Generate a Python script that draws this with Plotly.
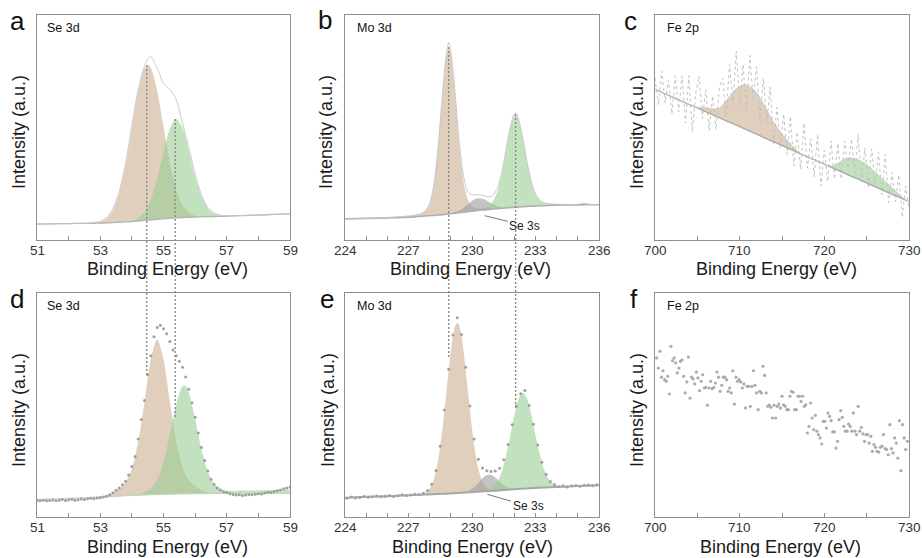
import plotly.graph_objects as go

W, H = 922, 558
FONT = "Liberation Sans, Arial, sans-serif"

# ---------------- tick labels ----------------
se_ticks = [51, 53, 55, 57, 59]
mo_ticks = [224, 227, 230, 233, 236]
fe_ticks = [700, 710, 720, 730]

# ---------------- panel a : Se 3d (top) ----------------
a_x = [51, 51.5, 52, 52.5, 52.8, 53.0, 53.2, 53.4, 53.6, 53.8, 54.0, 54.2, 54.4, 54.5, 54.6, 54.8,
       55.0, 55.2, 55.4, 55.6, 55.8, 56.0, 56.2, 56.4, 56.6, 56.8, 57.0, 57.5, 58, 58.5, 59]
a_bg = [7.1, 7.2, 7.3, 7.4, 7.45, 7.5, 7.6, 7.75, 7.9, 8.05, 8.2, 8.45, 8.7, 8.8, 8.9, 9.15,
        9.4, 9.6, 9.8, 10.0, 10.1, 10.2, 10.3, 10.4, 10.45, 10.5, 10.6, 10.85, 11.1, 11.35, 11.6]
a_tan = [0, 0, 0, 0, 0.2, 0.6, 2.0, 5.5, 12.8, 24.8, 41.0, 57.3, 67.6, 69.0, 67.6, 57.3,
         41.0, 24.8, 12.8, 5.5, 2.0, 0.6, 0.2, 0, 0, 0, 0, 0, 0, 0, 0]
a_green = [0, 0, 0, 0, 0, 0, 0, 0, 0, 0.1, 0.35, 1.2, 3.7, 5.9, 9.1, 18.1,
           29.6, 39.9, 44.0, 39.9, 29.6, 18.1, 9.1, 3.7, 1.2, 0.35, 0.1, 0, 0, 0, 0]
a_env = [7.1, 7.2, 7.3, 7.45, 7.7, 8.3, 10.0, 14.0, 21.5, 34.0, 51.0, 67.0, 77.5, 80.5, 81.5, 76.5,
         69.5, 67.0, 62.5, 52.0, 41.0, 29.5, 20.0, 14.5, 12.0, 11.0, 10.8, 10.9, 11.15, 11.4, 11.7]

# ---------------- panel b : Mo 3d (top) ----------------
b_x = [224, 225, 226, 226.5, 227, 227.3, 227.6, 227.8, 228.0, 228.2, 228.4, 228.6, 228.8, 228.9,
       229.0, 229.2, 229.4, 229.6, 229.8, 230.0, 230.2, 230.4, 230.6, 230.8, 231.0, 231.2, 231.4,
       231.6, 231.8, 232.0, 232.1, 232.2, 232.4, 232.6, 232.8, 233.0, 233.2, 233.4, 233.6, 233.8,
       234.0, 234.5, 235.0, 235.3, 235.6, 236]
b_bg = [9.4, 9.6, 9.8, 9.95, 10.1, 10.3, 10.55, 10.7, 10.8, 10.95, 11.1, 11.3, 11.5, 11.6,
        11.7, 11.9, 12.1, 12.3, 12.55, 12.8, 13.0, 13.2, 13.4, 13.6, 13.8, 13.95, 14.1,
        14.25, 14.4, 14.5, 14.6, 14.65, 14.8, 14.95, 15.0, 15.1, 15.2, 15.25, 15.35, 15.45,
        15.5, 15.55, 15.6, 15.65, 15.65, 15.7]
b_tan = [0, 0, 0.25, 0.35, 0.56, 0.77, 1.26, 2.3, 5.4, 13.7, 30.2, 53.0, 71.5, 74.3,
         71.5, 53.0, 30.2, 13.7, 5.4, 2.3, 1.26, 0.87, 0.69, 0.56, 0.46, 0, 0,
         0, 0, 0, 0, 0, 0, 0, 0, 0, 0, 0, 0, 0, 0, 0, 0, 0, 0, 0]
b_gray = [0, 0, 0, 0, 0, 0, 0, 0, 0, 0, 0, 0, 0, 0,
          0.19, 0.49, 1.09, 2.06, 3.34, 4.6, 5.39, 5.39, 4.6, 3.34, 2.06, 1.09, 0.49,
          0.19, 0, 0, 0, 0, 0, 0, 0, 0, 0, 0, 0, 0, 0, 0, 0, 0, 0, 0]
b_green = [0, 0, 0, 0, 0, 0, 0, 0, 0, 0, 0, 0, 0, 0,
           0, 0, 0, 0, 0, 0, 0, 0.62, 0.93, 1.7, 3.6, 7.65, 14.9,
           25.0, 35.2, 41.1, 41.1, 39.0, 30.3, 19.7, 10.8, 5.3, 2.4, 1.2, 0.75, 0.52,
           0.43, 0.28, 0.18, 0.14, 0.1, 0.08]
b_env = [9.4, 9.6, 10.0, 10.3, 10.7, 11.1, 11.8, 13.0, 16.2, 24.7, 41.3, 64.3, 83.5, 88.0,
         84.0, 65.4, 43.4, 28.3, 21.6, 20.05, 20.1, 20.1, 19.6, 19.2, 19.9, 23.1, 29.9,
         39.8, 49.9, 56.2, 56.4, 53.9, 45.3, 34.9, 26.0, 20.6, 17.7, 16.6, 16.1, 16.0,
         15.9, 15.8, 15.8, 16.4, 15.8, 15.8]

# ---------------- panel c : Fe 2p (top) ----------------
c_start, c_step = 700.0, 0.4
c_bg = [67.0, 66.3, 65.7, 65.0, 64.3, 63.7, 63.0, 62.3, 61.7, 61.0, 60.3, 59.7, 59.0, 58.3, 57.7, 57.0,
        56.3, 55.7, 55.0, 54.3, 53.7, 53.0, 52.3, 51.7, 51.0, 50.3, 49.7, 49.0, 48.3, 47.7, 47.0, 46.3,
        45.7, 45.0, 44.3, 43.7, 43.0, 42.3, 41.7, 41.0, 40.3, 39.7, 39.0, 38.3, 37.7, 37.0, 36.3, 35.7,
        35.0, 34.3, 33.7, 33.0, 32.3, 31.7, 31.0, 30.3, 29.7, 29.0, 28.3, 27.7, 27.0, 26.3, 25.7, 25.0,
        24.3, 23.7, 23.0, 22.3, 21.7, 21.0, 20.3, 19.7, 19.0, 18.3, 17.7, 17.0]
c_tan = [0, 0, 0, 0, 0, 0, 0, 0, 0, 0, 0, 0,
         0.1, 0.5, 1.1, 1.8, 2.2, 2.6, 3.2, 4.4, 6.3, 8.8, 11.5, 14.0, 16.2, 18.0, 19.3, 19.9,
         19.9, 19.4, 18.3, 16.8, 14.9, 12.9, 10.7, 8.7, 7.1, 5.8, 4.6, 3.4, 2.4, 1.4, 0.7, 0.2,
         0, 0, 0, 0, 0, 0, 0, 0, 0, 0, 0, 0, 0, 0, 0, 0, 0, 0, 0, 0, 0, 0, 0, 0, 0, 0, 0, 0, 0, 0, 0, 0]
c_green = [0] * 52 + [0.5, 1.5, 3.0, 4.8, 6.3, 7.4, 8.1, 8.5, 8.6, 8.6, 8.3, 7.9, 7.2, 6.5, 5.8, 5.0,
                      4.3, 3.6, 2.8, 2.1, 1.4, 0.7, 0.15, 0]
c_raw = [72, 60, 75, 61, 71, 56, 73, 57, 73, 52, 73, 48, 65, 73, 54, 67, 48.5, 64, 49, 68,
         72, 55, 78, 60, 84, 60, 78, 57, 82, 62, 77, 53, 72, 52, 68, 42, 59, 41, 56, 38,
         55, 33, 48, 31.5, 52, 32, 45, 28, 47, 24, 40, 26, 44, 27, 43, 27, 44, 32, 45, 29,
         47, 26, 41, 23, 40.5, 24, 39, 20, 38, 16.6, 30, 17, 29, 10, 24, 14]

# ---------------- panel d : Se 3d (bottom) ----------------
d_x = [51, 51.5, 52, 52.5, 53.0, 53.3, 53.6, 53.8, 54.0, 54.2, 54.4, 54.6, 54.8, 55.0, 55.2,
       55.4, 55.6, 55.7, 55.8, 56.0, 56.2, 56.4, 56.6, 56.8, 57.0, 57.5, 58.0, 58.5, 59.0]
d_bg = [7.8, 8.05, 8.3, 8.6, 8.9, 9.14, 9.36, 9.48, 9.6, 9.72, 9.84, 9.94, 10.02, 10.1, 10.18,
        10.26, 10.32, 10.34, 10.36, 10.4, 10.44, 10.48, 10.5, 10.5, 10.5, 10.5, 10.5, 10.5, 10.5]
d_tan = [0, 0, 0, 0, 0.2, 1.0, 3.3, 5.9, 11.9, 23.7, 41.5, 60.4, 69.3, 60.4, 41.5,
         23.7, 11.9, 8.3, 5.9, 3.3, 1.5, 0.6, 0.2, 0, 0, 0, 0, 0, 0]
d_green = [0, 0, 0, 0, 0, 0, 0, 0, 0, 0, 1.3, 2.8, 6.6, 14.3, 26.4,
           40.0, 48.1, 48.1, 45.2, 33.4, 19.9, 9.9, 4.3, 1.9, 1.2, 1.3, 1.4, 1.6, 1.8]
d_start, d_step = 51.0, 0.1
d_dots = [7.4, 7.3, 7.5, 7.2, 7.4, 7.6, 7.3, 7.5, 7.8, 7.4,
          7.6, 7.9, 7.5, 7.7, 8.0, 7.8, 8.1, 8.4, 8.2, 8.5,
          8.6, 8.9, 9.3, 9.9, 10.8, 11.9, 13.0, 14.4, 16.0, 18.7,
          22.5, 27.0, 34.8, 43.5, 52.0, 63.5, 72.0, 80.5, 84.6, 85.6,
          84.0, 81.8, 78.4, 74.5, 72.0, 69.5, 66.8, 62.5, 57.0, 51.0,
          44.5, 37.5, 31.0, 25.2, 20.5, 16.8, 14.5, 13.0, 12.0, 11.3,
          10.9, 10.4, 10.1, 9.8, 9.9, 9.6, 9.8, 10.0, 9.9, 10.2,
          10.4, 10.3, 10.7, 11.0, 10.9, 11.4, 11.8, 12.0, 12.6, 12.9,
          13.4]

# ---------------- panel e : Mo 3d (bottom) ----------------
e_x = [224, 225, 226, 227, 227.5, 227.8, 228.0, 228.2, 228.4, 228.6, 228.8, 229.0, 229.1, 229.2,
       229.3, 229.4, 229.5, 229.6, 229.8, 230.0, 230.2, 230.4, 230.6, 230.8, 231.0, 231.2, 231.4,
       231.6, 231.8, 232.0, 232.2, 232.4, 232.6, 232.8, 233.0, 233.2, 233.4, 233.6, 233.8, 234.0,
       234.4, 235, 236]
e_bg = [8.6, 9.0, 9.3, 9.7, 9.9, 10.02, 10.1, 10.18, 10.26, 10.34, 10.42, 10.5, 10.56, 10.62,
        10.68, 10.74, 10.8, 10.86, 10.98, 11.1, 11.22, 11.34, 11.46, 11.58, 11.7, 11.82, 11.94,
        12.08, 12.24, 12.4, 12.52, 12.64, 12.76, 12.88, 13.0, 13.08, 13.16, 13.24, 13.32, 13.4,
        13.56, 13.8, 14.2]
e_tan = [0, 0, 0, 0, 0.1, 0.85, 2.6, 6.8, 15.0, 28.5, 46.1, 63.5, 70.2, 74.5,
         76.0, 74.5, 70.2, 63.5, 46.1, 28.5, 15.0, 6.8, 2.6, 0.85, 0.25, 0, 0,
         0, 0, 0, 0, 0, 0, 0, 0, 0, 0, 0, 0, 0, 0, 0, 0]
e_gray = [0, 0, 0, 0, 0, 0, 0, 0, 0, 0, 0, 0, 0, 0, 0, 0, 0,
          0.2, 0.6, 1.5, 3.0, 5.0, 6.7, 7.4, 6.7, 5.0, 3.0, 1.5, 0.6, 0.2,
          0, 0, 0, 0, 0, 0, 0, 0, 0, 0, 0, 0, 0]
e_green = [0, 0, 0, 0, 0, 0, 0, 0, 0, 0, 0, 0, 0, 0, 0, 0, 0, 0, 0, 0, 0, 0, 0,
           0.6, 1.7, 4.0, 8.2, 14.9, 23.6, 32.9, 40.1, 42.8, 40.1, 32.9, 23.6, 14.9, 8.2, 4.0, 1.7, 0.6,
           0, 0, 0]
e_start, e_step = 224.1, 0.2
e_dots = [8.4, 8.9, 8.5, 8.7, 9.2, 8.8, 9.0, 9.4, 9.0, 9.3,
          9.6, 9.2, 9.5, 9.9, 9.6, 9.8, 10.2, 10.1, 10.6, 11.8,
          14.6, 20.8, 31.6, 47.8, 66.0, 81.2, 89.0, 81.5, 66.8, 49.5,
          34.8, 25.8, 21.9, 20.6, 20.3, 20.5, 21.8, 25.6, 32.4, 41.2,
          49.5, 55.0, 56.5, 49.8, 41.4, 32.1, 24.4, 19.1, 15.9, 14.5,
          13.6, 13.9, 13.4, 13.9, 14.1, 13.7, 14.2, 14.3, 13.9, 14.4]

# ---------------- panel f : Fe 2p (bottom) ----------------
f_first, f_last = 700.2, 729.8
f_dots = [71.0, 66.5, 74.0, 62.4, 65.3, 61.3, 60.6, 62.8, 54.9, 76.2,
          69.8, 71.0, 68.8, 64.3, 66.5, 69.5, 70.2, 62.8, 55.4, 60.3,
          71.4, 53.1, 62.4, 61.6, 59.4, 64.7, 62.1, 56.4, 60.6, 63.5,
          57.6, 57.9, 49.9, 57.6, 60.6, 57.3, 57.9, 59.8, 64.7, 62.4,
          56.1, 58.8, 62.4, 62.4, 61.3, 56.1, 57.6, 55.4, 65.3, 50.4,
          62.4, 60.6, 61.3, 60.3, 57.6, 59.4, 48.7, 58.3, 58.3, 49.4,
          58.3, 65.3, 58.8, 55.4, 47.9, 56.1, 55.4, 67.3, 63.2, 55.4,
          49.4, 49.9, 49.0, 44.2, 49.9, 44.2, 49.4, 50.4, 48.7, 53.9,
          50.1, 49.4, 47.9, 47.9, 53.9, 56.1, 55.7, 47.9, 47.9, 53.9,
          53.9, 51.6, 53.9, 49.4, 50.1, 37.5, 40.5, 50.9, 44.2, 39.0,
          45.4, 38.3, 36.8, 35.3, 32.6, 42.7, 42.7, 39.7, 46.4, 44.9,
          43.0, 38.0, 38.0, 30.8, 33.8, 43.5, 47.5, 44.5, 40.5, 38.3,
          38.3, 41.5, 40.5, 38.3, 46.4, 38.3, 36.8, 49.4, 38.3, 40.0,
          37.1, 33.8, 36.8, 36.8, 33.0, 36.0, 29.3, 32.3, 31.1, 29.3,
          29.0, 31.1, 31.6, 36.8, 30.5, 30.1, 27.8, 41.2, 30.5, 28.6,
          35.3, 33.0, 26.3, 43.0, 20.7, 41.2, 35.3, 30.1, 33.8]

# ---------------- styles ----------------
TAN = "rgba(205,178,148,0.62)"
GREEN = "rgba(150,205,145,0.58)"
GRAYF = "rgba(160,160,160,0.62)"
FRAME = "#8f8f8f"

fig = go.Figure()


def axkw(n):
    return dict(xaxis="x" if n == 1 else f"x{n}", yaxis="y" if n == 1 else f"y{n}")


def add_peak(n, x, bg, comp, color):
    top = [b + c for b, c in zip(bg, comp)]
    fig.add_trace(go.Scatter(x=x, y=bg, mode="lines", line=dict(width=0, shape="spline", smoothing=0.7),
                             hoverinfo="skip", showlegend=False, **axkw(n)))
    fig.add_trace(go.Scatter(x=x, y=top, mode="lines", line=dict(width=0, shape="spline", smoothing=0.7),
                             fill="tonexty", fillcolor=color, hoverinfo="skip", showlegend=False, **axkw(n)))


def add_line(n, x, y, color, width, dash="solid", shape="spline"):
    fig.add_trace(go.Scatter(x=x, y=y, mode="lines",
                             line=dict(color=color, width=width, dash=dash, shape=shape, smoothing=0.7),
                             hoverinfo="skip", showlegend=False, **axkw(n)))


def add_dots(n, x, y, color, size):
    fig.add_trace(go.Scatter(x=x, y=y, mode="markers", marker=dict(color=color, size=size, line=dict(width=0)),
                             hoverinfo="skip", showlegend=False, **axkw(n)))


# a
add_peak(1, a_x, a_bg, a_tan, TAN)
add_peak(1, a_x, a_bg, a_green, GREEN)
add_line(1, a_x, a_bg, "#b4b4b4", 1.3)
add_line(1, a_x, a_env, "#c4c4c4", 0.9)

# b
add_peak(2, b_x, b_bg, b_tan, TAN)
add_peak(2, b_x, b_bg, b_gray, GRAYF)
add_peak(2, b_x, b_bg, b_green, GREEN)
add_line(2, b_x, b_bg, "#b0b0b0", 1.6)
add_line(2, b_x, b_env, "#c4c4c4", 0.9)

# c
c_x = [round(c_start + c_step * i, 2) for i in range(len(c_bg))]
add_peak(3, c_x, c_bg, c_tan, TAN)
add_peak(3, c_x, c_bg, c_green, GREEN)
add_line(3, c_x, c_raw, "#c2c2c2", 1.0, dash="dot", shape="linear")
add_line(3, c_x, c_bg, "#a8a8a8", 1.3, shape="linear")
add_line(3, c_x, [b + t + g for b, t, g in zip(c_bg, c_tan, c_green)], "#c8c8c8", 0.9)

# d
add_peak(4, d_x, d_bg, d_tan, TAN)
add_peak(4, d_x, d_bg, d_green, GREEN)
add_line(4, d_x, d_bg, "#c2d6bf", 1.2)
dx = [round(d_start + d_step * i, 2) for i in range(len(d_dots))]
add_dots(4, dx, d_dots, "#a0a0a0", 3.0)

# e
add_peak(5, e_x, e_bg, e_tan, TAN)
add_peak(5, e_x, e_bg, e_gray, GRAYF)
add_peak(5, e_x, e_bg, e_green, GREEN)
add_line(5, e_x, e_bg, "#a8a8a8", 2.0)
ex = [round(e_start + e_step * i, 2) for i in range(len(e_dots))]
add_dots(5, ex, e_dots, "#a0a0a0", 3.0)

# f
fn = len(f_dots)
fx = [f_first + (f_last - f_first) * i / (fn - 1) for i in range(fn)]
add_dots(6, fx, f_dots, "#ababab", 3.2)

# ---------------- axes ----------------
cols = [(37, 290), (345, 599), (655, 909)]
rows = [(15, 240), (293, 517)]
xranges = [[51, 59], [224, 236], [700, 730]]
tick_sets = [se_ticks, mo_ticks, fe_ticks]
minor = [1, 1, 5]

layout = dict(width=W, height=H, margin=dict(l=0, r=0, t=0, b=0),
              paper_bgcolor="white", plot_bgcolor="white", showlegend=False)
ann = []
for r in range(2):
    for c in range(3):
        n = r * 3 + c + 1
        sx = "" if n == 1 else str(n)
        l, rr = cols[c]
        t, b = rows[r]
        layout["xaxis" + sx] = dict(
            domain=[l / W, rr / W], range=xranges[c], anchor="y" + sx,
            showline=True, linecolor=FRAME, linewidth=1.3, mirror=True,
            showgrid=False, zeroline=False,
            tickmode="array", tickvals=tick_sets[c], showticklabels=False,
            ticks="inside", ticklen=4, tickwidth=1, tickcolor=FRAME,
            minor=dict(ticks="inside", ticklen=4, tickwidth=1, tickcolor=FRAME,
                       tick0=tick_sets[c][0], dtick=minor[c], showgrid=False),
        )
        layout["yaxis" + sx] = dict(
            domain=[1 - b / H, 1 - t / H], range=[0, 100], anchor="x" + sx,
            showline=True, linecolor=FRAME, linewidth=1.3, mirror=True,
            showgrid=False, zeroline=False, showticklabels=False, ticks="",
        )
        # tick labels drawn as text just below the axis line
        for v in tick_sets[c]:
            ann.append(dict(text=str(v), x=v, xref="x" + sx, y=1 - (b + 10) / H, yref="paper",
                            showarrow=False, xanchor="center", yanchor="middle",
                            font=dict(family=FONT, size=13.5, color="#333333")))

fig.update_layout(**layout)

# ---------------- annotations ----------------
letters = [("a", 17, 21), ("b", 325, 20), ("c", 630, 21), ("d", 17, 299), ("e", 327, 299), ("f", 634, 299)]
for t, px, py in letters:
    ann.append(dict(text=t, x=px / W, y=1 - py / H, xref="paper", yref="paper", showarrow=False,
                    xanchor="center", yanchor="middle", font=dict(family=FONT, size=26, color="#111111")))
inner = [("Se 3d", 45, 28), ("Mo 3d", 355, 28), ("Fe 2p", 665, 28),
         ("Se 3d", 45, 306), ("Mo 3d", 355, 306), ("Fe 2p", 665, 306)]
for t, px, py in inner:
    ann.append(dict(text=t, x=px / W, y=1 - py / H, xref="paper", yref="paper", showarrow=False,
                    xanchor="left", yanchor="middle", font=dict(family=FONT, size=12.5, color="#111111")))
xt = [(167, 269), (470, 269), (776, 269), (167, 546.5), (472, 546.5), (780, 546.5)]
for px, py in xt:
    ann.append(dict(text="Binding Energy (eV)", x=px / W, y=1 - py / H, xref="paper", yref="paper",
                    showarrow=False, xanchor="center", yanchor="middle",
                    font=dict(family=FONT, size=18, color="#1a1a1a")))
yt = [(19, 132), (326, 132), (637, 132), (19, 410), (328, 410), (637, 410)]
for px, py in yt:
    ann.append(dict(text="Intensity (a.u.)", x=px / W, y=1 - py / H, xref="paper", yref="paper",
                    showarrow=False, xanchor="center", yanchor="middle", textangle=-90,
                    font=dict(family=FONT, size=18, color="#1a1a1a")))
# Se 3s labels
ann.append(dict(text="Se 3s", x=230.6, y=10.8, xref="x2", yref="y2", ax=232.5, ay=6.4, axref="x2", ayref="y2",
                showarrow=True, arrowhead=0, arrowwidth=0.8, arrowcolor="#555555",
                font=dict(family=FONT, size=12, color="#222222")))
ann.append(dict(text="Se 3s", x=230.73, y=10.1, xref="x5", yref="y5", ax=232.65, ay=4.9, axref="x5", ayref="y5",
                showarrow=True, arrowhead=0, arrowwidth=0.8, arrowcolor="#555555",
                font=dict(family=FONT, size=12, color="#222222")))
fig.update_layout(annotations=ann)

# ---------------- dotted guide lines across rows ----------------
guides = [("x", 54.47, 65, 375), ("x", 55.37, 119, 418), ("x2", 228.9, 47, 358), ("x2", 232.06, 114, 410)]
shapes = []
for xr, xv, ytop, ybot in guides:
    shapes.append(dict(type="line", xref=xr, yref="paper", x0=xv, x1=xv, y0=1 - ytop / H, y1=1 - ybot / H,
                       line=dict(color="#8a8a8a", width=1.4, dash="2px,2px")))
fig.update_layout(shapes=shapes)

fig.write_html("out.html")
